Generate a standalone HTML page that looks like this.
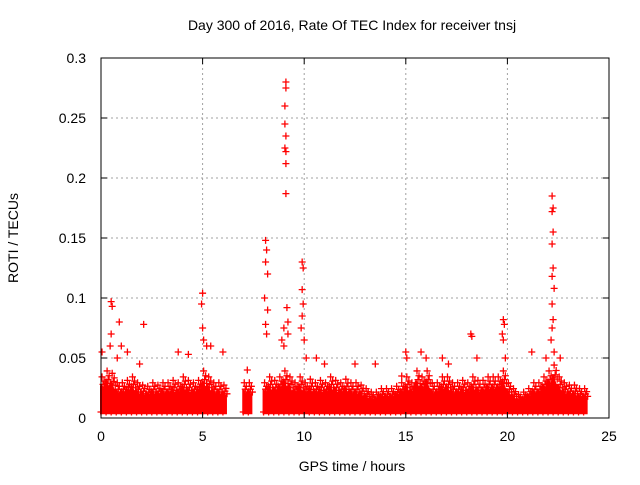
<!DOCTYPE html>
<html><head><meta charset="utf-8"><style>
body{margin:0;background:#fff}
svg text{font-family:"Liberation Sans",sans-serif;font-size:14px;fill:#000}
</style></head><body>
<svg id="chart" width="640" height="480" xmlns="http://www.w3.org/2000/svg">
<g id="grid"></g>
<g id="band"></g>
<g id="pts"></g>
<rect x="101" y="58" width="508" height="360" fill="none" stroke="#000" stroke-width="1"/>
<g id="axes"></g>
<text x="352" y="30" text-anchor="middle">Day 300 of 2016, Rate Of TEC Index for receiver tnsj</text>
<text x="352" y="471" text-anchor="middle">GPS time / hours</text>
<text x="18" y="238" text-anchor="middle" transform="rotate(-90 18 238)">ROTI / TECUs</text>
</svg>
<script>
const xTicks=[0,5,10,15,20,25];
const yTicks=[0,0.05,0.1,0.15,0.2,0.25,0.3];
const yTickLabels=["0","0.05","0.1","0.15","0.2","0.25","0.3"];
const bandTimes=[0,0.25,0.5,0.75,1,1.25,1.5,1.75,2,2.25,2.5,2.75,3,3.25,3.5,3.75,4,4.25,4.5,4.75,5,5.25,5.5,5.75,6,6.25,6.5,6.75,7,7.25,7.5,7.75,8,8.25,8.5,8.75,9,9.25,9.5,9.75,10,10.25,10.5,10.75,11,11.25,11.5,11.75,12,12.25,12.5,12.75,13,13.25,13.5,13.75,14,14.25,14.5,14.75,15,15.25,15.5,15.75,16,16.25,16.5,16.75,17,17.25,17.5,17.75,18,18.25,18.5,18.75,19,19.25,19.5,19.75,20,20.25,20.5,20.75,21,21.25,21.5,21.75,22,22.25,22.5,22.75,23,23.25,23.5,23.75];
const bandTop=[0.035,0.04,0.038,0.03,0.03,0.032,0.035,0.03,0.028,0.027,0.03,0.028,0.03,0.03,0.032,0.03,0.035,0.032,0.03,0.032,0.04,0.035,0.03,0.03,0.028,null,null,null,0.03,0.03,null,null,0.03,0.035,0.032,0.035,0.04,0.035,0.03,0.035,0.03,0.033,0.03,0.032,0.03,0.035,0.032,0.03,0.033,0.03,0.03,0.028,0.025,0.022,0.022,0.025,0.025,0.025,0.027,0.03,0.035,0.03,0.04,0.035,0.04,0.03,0.03,0.035,0.035,0.03,0.03,0.032,0.03,0.035,0.032,0.032,0.035,0.035,0.035,0.04,0.03,0.025,0.02,0.022,0.025,0.03,0.03,0.035,0.04,0.045,0.035,0.03,0.028,0.028,0.025,0.025];
const bandBottom=0.004;
const outTimes=[0.5,0.55,0.5,0.45,0.9,1.0,2.1,0.8,1.3,5.0,4.95,5.0,5.05,5.2,5.4,6.0,7.2,8.1,8.15,8.1,8.2,8.05,8.2,8.1,8.15,9.1,9.1,9.05,9.05,9.1,9.05,9.1,9.1,9.1,9.15,9.2,9.0,9.2,8.9,9.0,9.9,9.95,9.9,9.95,9.9,9.85,10.0,10.1,10.6,11,12.5,13.5,15,15.05,15.75,16,16.8,17.1,18.2,18.25,18.5,19.8,19.85,19.75,19.8,19.9,21.2,22.2,22.25,22.2,22.25,22.2,22.25,22.2,22.3,22.2,22.25,22.2,22.15,22.3,22.6,21.9,0.05,1.9,3.8,4.3,14.8];
const outValues=[0.097,0.093,0.07,0.06,0.08,0.06,0.078,0.05,0.055,0.104,0.095,0.075,0.065,0.06,0.06,0.055,0.04,0.148,0.14,0.13,0.12,0.1,0.09,0.078,0.07,0.28,0.275,0.26,0.245,0.235,0.225,0.222,0.212,0.187,0.092,0.08,0.075,0.07,0.065,0.06,0.13,0.125,0.107,0.095,0.085,0.075,0.065,0.05,0.05,0.045,0.045,0.045,0.055,0.05,0.055,0.05,0.05,0.045,0.07,0.068,0.05,0.082,0.078,0.07,0.065,0.05,0.055,0.185,0.175,0.172,0.155,0.145,0.125,0.118,0.108,0.095,0.082,0.075,0.065,0.055,0.05,0.05,0.055,0.045,0.055,0.053,0.035];
const X=v=>101+v*(508/25), Y=v=>418-v*(360/0.3);
const NS="http://www.w3.org/2000/svg";
function mk(p,t,a){const e=document.createElementNS(NS,t);for(const k in a)e.setAttribute(k,a[k]);p.appendChild(e);return e;}
const grid=document.getElementById('grid'),axes=document.getElementById('axes');
xTicks.forEach(t=>{
  const x=X(t);
  if(t>0&&t<25){const l=mk(grid,'line',{x1:x,x2:x,y1:58,y2:418,stroke:'#a0a0a0','stroke-dasharray':'2,3'});}
  mk(axes,'line',{x1:x,x2:x,y1:418,y2:412,stroke:'#000'});mk(axes,'line',{x1:x,x2:x,y1:58,y2:64,stroke:'#000'});
  const tx=mk(axes,'text',{x:x,y:441,'text-anchor':'middle'});tx.textContent=t;
  
});
yTicks.forEach((t,i)=>{
  const y=Y(t);
  if(t>0&&t<0.3){const l=mk(grid,'line',{x1:101,x2:609,y1:y,y2:y,stroke:'#a0a0a0','stroke-dasharray':'2,3'});}
  mk(axes,'line',{x1:101,x2:107,y1:y,y2:y,stroke:'#000'});mk(axes,'line',{x1:609,x2:603,y1:y,y2:y,stroke:'#000'});
  const tx=mk(axes,'text',{x:86,y:y+5,'text-anchor':'end'});tx.textContent=yTickLabels[i];
  
});
const band=document.getElementById('band'),pts=document.getElementById('pts');
function plus(g,t,v){const x=X(t),y=Y(v);const p=mk(g,'path',{d:`M${x-3.5},${y}h7M${x},${y-3.5}v7`,stroke:'#f00','stroke-width':1.3});
}
let seg=[];
function flush(){
  if(seg.length<1)return;
  const first=seg[0],last=seg[seg.length-1];
  let d=`M${X(first.t)},${Y(bandBottom)}`;
  seg.forEach(s=>{d+=`L${X(s.t)},${Y(s.v*0.78)}L${X(s.t+0.12)},${Y(s.v*0.62)}`;});
  d+=`L${X(last.t+0.15)},${Y(last.v*0.65)}L${X(last.t+0.15)},${Y(bandBottom)}Z`;
  const p=mk(band,'path',{d:d,fill:'#f00',stroke:'#f00','stroke-width':2});
  
  seg=[];
}
bandTimes.forEach((t,i)=>{
  const v=bandTop[i];
  if(v===null){flush();return;}
  seg.push({t:t,v:v});
  plus(band,t+0.05,v*0.98);
  plus(band,t+0.15,v*0.88);
  plus(band,t+0.1,v*0.8);
  plus(band,t+0.2,v*0.72);
  plus(band,t,bandBottom+0.001);
});
flush();
outTimes.forEach((t,i)=>plus(pts,t,outValues[i]));
</script>
</body></html>
